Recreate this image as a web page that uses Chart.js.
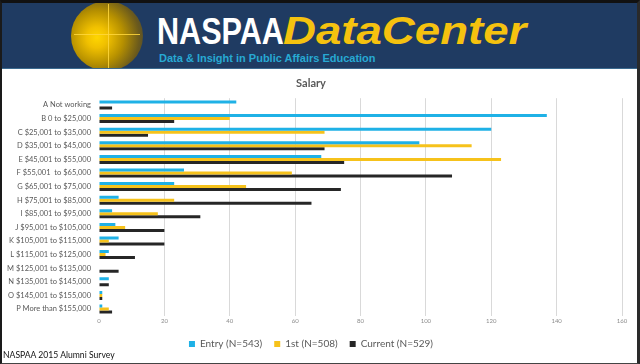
<!DOCTYPE html>
<html>
<head>
<meta charset="utf-8">
<script src="https://cdn.jsdelivr.net/npm/chart.js@4.4.1/dist/chart.umd.min.js"></script>
<style>
  html, body { margin: 0; padding: 0; background: #fff; }
  body { width: 640px; height: 364px; position: relative; overflow: hidden; font-family: Lato, "Open Sans", sans-serif; }
  #frame { position: absolute; left: 0; top: 0; width: 640px; height: 364px; box-sizing: border-box;
           border-left: 2px solid #1a1a1a; border-right: 3px solid #2a2a2a; border-top: 3px solid #111; border-bottom: 1px solid #444; pointer-events: none; z-index: 5; }
  #header { position: absolute; left: 0; top: 0; width: 640px; height: 69px; background: #1f3b62; overflow: hidden; }
  #header::after { content: ""; position: absolute; left: 0; right: 0; bottom: 0; height: 1px; background: #3b6a8f; }
  #logo { position: absolute; left: 71px; top: 1px; width: 72px; height: 70px; border-radius: 50%;
          background: radial-gradient(circle at 36% 52%, #ffd600 0%, #f0c000 18%, #b69000 45%, #6b5a1c 72%, #2f3d4e 100%); }
  #logo .v { position: absolute; left: 37px; top: 3px; width: 1px; height: 64px; background: rgba(255,215,60,0.85); }
  #logo .h { position: absolute; left: 3px; top: 33px; width: 66px; height: 1px; background: rgba(255,215,60,0.85); }
  #brand { position: absolute; left: 157px; top: 12px; white-space: nowrap; font-family: "Liberation Sans", Arial, sans-serif; font-weight: bold; line-height: 40px; }
  #brand .n { color: #ffffff; font-size: 36px; display: inline-block; transform: scaleX(0.85); transform-origin: left center; }
  #brand .d { position: absolute; left: 126px; top: -1px; color: #f5c20f; font-size: 38px; font-style: italic; display: inline-block; transform: scaleX(1.2); transform-origin: left center; }
  #tag { position: absolute; left: 159px; top: 52px; color: #27a9d3; font-family: "Liberation Sans", Arial, sans-serif; font-weight: bold; font-size: 11px; white-space: nowrap; }
  #wrap { position: absolute; left: 0; top: 70px; width: 640px; height: 294px; }
  #foot { position: absolute; left: 3px; top: 350px; font-family: Lato, sans-serif; font-size: 8.6px; color: #111; white-space: nowrap; }
</style>
</head>
<body>
<div id="header">
  <div id="logo"><div class="v"></div><div class="h"></div></div>
  <div id="brand"><span class="n">NASPAA</span><span class="d">DataCenter</span></div>
  <div id="tag">Data &amp; Insight in Public Affairs Education</div>
</div>
<div id="wrap"><canvas id="c" width="640" height="294"></canvas></div>
<div id="foot">NASPAA 2015 Alumni Survey</div>
<div id="frame"></div>
<script>
const categories = [
  "A Not working",
  "B 0 to $25,000",
  "C $25,001 to $35,000",
  "D $35,001 to $45,000",
  "E $45,001 to $55,000",
  "F $55,001  to $65,000",
  "G $65,001 to $75,000",
  "H $75,001 to $85,000",
  "I $85,001 to $95,000",
  "J $95,001 to $105,000",
  "K $105,001 to $115,000",
  "L $115,001 to $125,000",
  "M $125,001 to $135,000",
  "N $135,001 to $145,000",
  "O $145,001 to $155,000",
  "P More than $155,000"
];
const entryValues   = [42, 137, 120, 98, 68, 26, 23, 6, 4, 5, 6, 3, 0, 3, 1, 1];
const firstValues   = [0, 40, 69, 114, 123, 59, 45, 23, 18, 8, 3, 2, 0, 0, 1, 3];
const currentValues = [4, 23, 15, 69, 75, 108, 74, 65, 31, 20, 20, 11, 6, 3, 1, 4];
const seriesLabels = ["Entry (N=543)", "1st (N=508)", "Current (N=529)"];
const xTicks = [0, 20, 40, 60, 80, 100, 120, 140, 160];

const colors = ["#1fb1e6", "#f6c21b", "#262626"];

new Chart(document.getElementById('c'), {
  type: 'bar',
  data: {
    labels: categories,
    datasets: [
      { label: seriesLabels[0], data: entryValues, backgroundColor: colors[0] },
      { label: seriesLabels[1], data: firstValues, backgroundColor: colors[1] },
      { label: seriesLabels[2], data: currentValues, backgroundColor: colors[2] }
    ]
  },
  options: {
    indexAxis: 'y',
    responsive: false,
    animation: false,
    devicePixelRatio: 1,
    layout: { padding: { left: 0, right: 18, top: 0, bottom: 5 } },
    datasets: { bar: { categoryPercentage: 0.66, barPercentage: 1.0, borderWidth: 0 } },
    plugins: {
      title: {
        display: true, text: 'Salary', color: '#595959',
        font: { family: 'Lato', size: 11 },
        padding: { top: 7, bottom: 8 }
      },
      legend: {
        position: 'bottom',
        labels: {
          color: '#595959',
          font: { family: 'Lato', size: 10 },
          boxWidth: 6, boxHeight: 6, padding: 12
        }
      },
      tooltip: { enabled: false }
    },
    scales: {
      x: {
        min: 0, max: 160,
        afterBuildTicks: (s) => { s.ticks = xTicks.map(v => ({ value: v })); },
        grid: { color: (ctx) => ctx.index === 0 ? 'rgba(0,0,0,0)' : '#d9d9d9', drawTicks: false, lineWidth: 1 },
        border: { display: false },
        ticks: { color: '#8c8c8c', font: { family: 'Lato', size: 6 }, padding: 2 }
      },
      y: {
        afterFit: (s) => { s.width = 99; },
        grid: { display: false, drawTicks: false },
        border: { display: false },
        ticks: { color: '#595959', font: { family: 'Lato', size: 7.5 }, padding: 8, autoSkip: false }
      }
    }
  }
});
</script>
</body>
</html>
